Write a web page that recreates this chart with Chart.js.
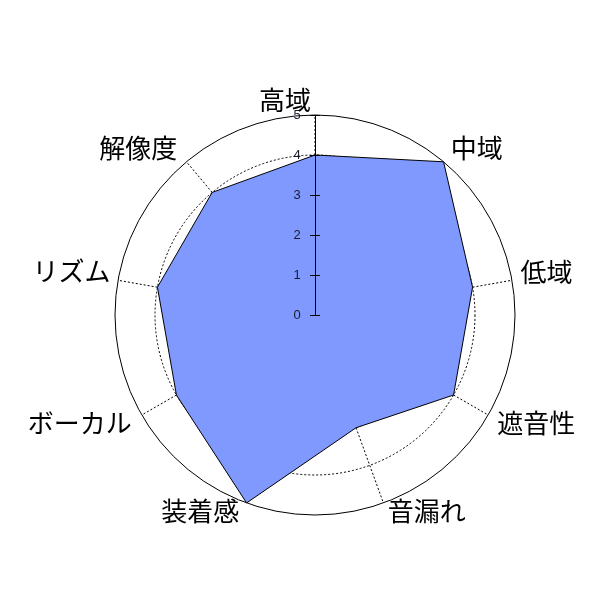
<!DOCTYPE html>
<html>
<head>
<meta charset="utf-8">
<script src="https://cdn.jsdelivr.net/npm/chart.js@4"></script>
<style>
html,body{margin:0;padding:0;background:#fff;}
#wrap{width:600px;height:600px;position:relative;}
</style>
</head>
<body>
<div id="wrap"><canvas id="c"></canvas></div>
<script>
const categories = ["高域","中域","低域","遮音性","音漏れ","装着感","ボーカル","リズム","解像度"];
const scores = [4, 5, 4, 4, 3, 5, 4, 4, 4];
const tickValues = [0, 1, 2, 3, 4, 5];
const tickLabels = ["0", "1", "2", "3", "4", "5"];

// layout tuning for label placement (pixels)
const labelDistance = 230;
const labelNudge = [[-30,15],[14,9],[5,-3],[22,-7],[33,-20],[-36,-20],[-36,-7],[-17,-4],[-29,9]];

const overlay = {
  id: 'overlay',
  afterDatasetsDraw(chart) {
    const s = chart.scales.r;
    const ctx = chart.ctx;
    ctx.save();
    // vertical axis
    const top = s.getPointPosition(0, s.getDistanceFromCenterForValue(5));
    ctx.strokeStyle = '#000';
    ctx.lineWidth = 1;
    ctx.setLineDash([]);
    ctx.beginPath();
    ctx.moveTo(s.xCenter + 0.5, s.yCenter);
    ctx.lineTo(top.x + 0.5, top.y);
    ctx.stroke();
    ctx.font = '13px "Liberation Sans", Arial, sans-serif';
    ctx.fillStyle = '#1a1a2a';
    ctx.textAlign = 'center';
    ctx.textBaseline = 'middle';
    tickValues.forEach((v, i) => {
      const p = s.getPointPosition(0, s.getDistanceFromCenterForValue(v));
      const y = Math.round(p.y) + 0.5;
      ctx.beginPath();
      ctx.moveTo(p.x - 5, y);
      ctx.lineTo(p.x + 5, y);
      ctx.stroke();
      ctx.fillText(tickLabels[i], p.x - 18, p.y);
    });
    // category labels
    ctx.font = '26px "Noto Sans CJK JP", sans-serif';
    ctx.fillStyle = '#000';
    categories.forEach((lab, i) => {
      const p = s.getPointPosition(i, labelDistance);
      ctx.fillText(lab, p.x + labelNudge[i][0], p.y + labelNudge[i][1]);
    });
    ctx.restore();
  }
};

new Chart(document.getElementById('c'), {
  type: 'radar',
  data: {
    labels: categories,
    datasets: [{
      data: scores,
      backgroundColor: 'rgb(128,153,255)',
      borderColor: '#000',
      borderWidth: 1,
      pointRadius: 0,
      pointHoverRadius: 0,
      fill: true,
      tension: 0
    }]
  },
  options: {
    responsive: true,
    maintainAspectRatio: false,
    animation: false,
    layout: { padding: { left: 115, top: 115, right: 85, bottom: 85 } },
    plugins: { legend: { display: false }, tooltip: { enabled: false } },
    scales: {
      r: {
        min: 0,
        max: 5,
        ticks: { display: false, stepSize: 1 },
        pointLabels: { display: false },
        grid: { circular: true, color: '#000', lineWidth: 1 },
        border: { dash: (c) => (c.tick && c.tick.value === 5) ? [] : [2, 2] },
        angleLines: { display: true, color: '#000', lineWidth: 1, borderDash: [2, 2] }
      }
    }
  },
  plugins: [overlay]
});
</script>
</body>
</html>
